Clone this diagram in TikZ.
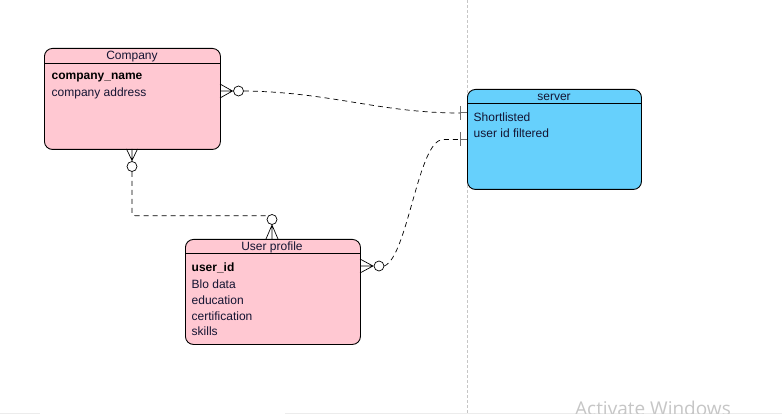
\documentclass[tikz,border=0pt]{standalone}
\usepackage{fontspec}
\setmainfont{Liberation Sans}
\newfontfamily\wmfont{Open Sans}
\definecolor{pinkc}{RGB}{255,200,210}
\definecolor{bluec}{RGB}{102,208,252}
\definecolor{titlec}{RGB}{20,20,50}
\definecolor{tickc}{RGB}{110,110,110}
\begin{document}
\begin{tikzpicture}[x=1pt,y=-1pt,
  entity/.style={draw=black, line width=0.9pt, rounded corners=8pt, anchor=north west, inner sep=0pt},
  headline/.style={line width=0.9pt},
  title/.style={font=\fontsize{12}{14}\selectfont, text=titlec, inner sep=0pt},
  attr/.style={font=\fontsize{12}{14}\selectfont, text=titlec, anchor=west, inner sep=0pt},
  keyattr/.style={attr, font=\fontsize{12}{14}\selectfont\bfseries, text=black},
  rel/.style={dash pattern=on 5pt off 4pt, line width=0.7pt},
  crow/.style={line width=0.7pt},
  ring/.style={draw, circle, fill=white, minimum size=10pt, inner sep=0pt, line width=0.7pt},
  onebar/.style={draw=tickc, line width=1pt},
]
\clip (0,0) rectangle (782,414);
\fill[white] (0,0) rectangle (782,414);

% page break guide and canvas edge
\draw[gray!45, dash pattern=on 3pt off 2pt, line width=0.6pt] (467,0) -- (467,414);
\draw[gray!15, line width=1.5pt] (0,413.5) -- (40,413.5) (285,413.5) -- (782,413.5);

% ---- entities ----
\node[entity, fill=pinkc, minimum width=176pt, minimum height=101pt] (company) at (44,48) {};
\draw[headline] ([yshift=-15pt]company.north west) -- ([yshift=-15pt]company.north east);
\node[title] (companyT) at (132,57) {Company};
\node[keyattr] (companyA1) at (51.5,77.5) {company\_name};
\node[attr] (companyA2) at (51.5,93.5) {company address};

\node[entity, fill=pinkc, minimum width=175pt, minimum height=105pt] (user) at (185,239) {};
\draw[headline] ([yshift=-14pt]user.north west) -- ([yshift=-14pt]user.north east);
\node[title] (userT) at (272,247) {User profile};
\node[keyattr] (userA1) at (191.5,268) {user\_id};
\node[attr] (userA2) at (191.5,284) {Blo data};
\node[attr] (userA3) at (191.5,300) {education};
\node[attr] (userA4) at (191.5,316) {certification};
\node[attr] (userA5) at (191.5,331.5) {skills};

\node[entity, fill=bluec, minimum width=174pt, minimum height=100pt] (server) at (467,89) {};
\draw[headline] ([yshift=-14pt]server.north west) -- ([yshift=-14pt]server.north east);
\node[title] (serverT) at (554,97) {server};
\node[attr] (serverA1) at (473.5,117) {Shortlisted};
\node[attr] (serverA2) at (473.5,133) {user id filtered};

% ---- crow's feet (many) with optional rings ----
\draw[crow] (220,84) -- (232.5,91) -- (220,98) (220,91) -- (232.5,91);
\node[ring] (ringA) at (238.5,91) {};

\draw[crow] (126.5,149) -- (132,160.5) -- (137.5,149) (132,149) -- (132,160.5);
\node[ring] (ringB) at (132,166.5) {};

\draw[crow] (266,239) -- (272,225) -- (278,239) (272,239) -- (272,225);
\node[ring] (ringC) at (272,219.5) {};

\draw[crow] (360,259) -- (373,266) -- (360,273) (360,266) -- (373,266);
\node[ring] (ringD) at (379,266) {};

% ---- one-marks at the server ----
\coordinate (tA) at (460,113);
\coordinate (tB) at (460,139.5);
\draw[onebar] (460,106) -- (460,120) (tA) -- (tA -| server.west);
\draw[onebar] (460,132.5) -- (460,146.5) (tB) -- (tB -| server.west);

% ---- relationships ----
\draw[rel] (ringA.east) .. controls (330,92) and (380,113) .. (tA);
\draw[rel, rounded corners=3pt] (ringB.south) |- (ringC.north west);
\draw[rel] (ringD.east) .. controls (408,256) and (418,140) .. (443,139.5) -- (tB);

% ---- system watermark ----
\node[anchor=north west, inner sep=0pt, text=gray!45, font=\wmfont\fontsize{19}{23}\selectfont] (wm) at (575,401) {Activate Windows};
\end{tikzpicture}
\end{document}
